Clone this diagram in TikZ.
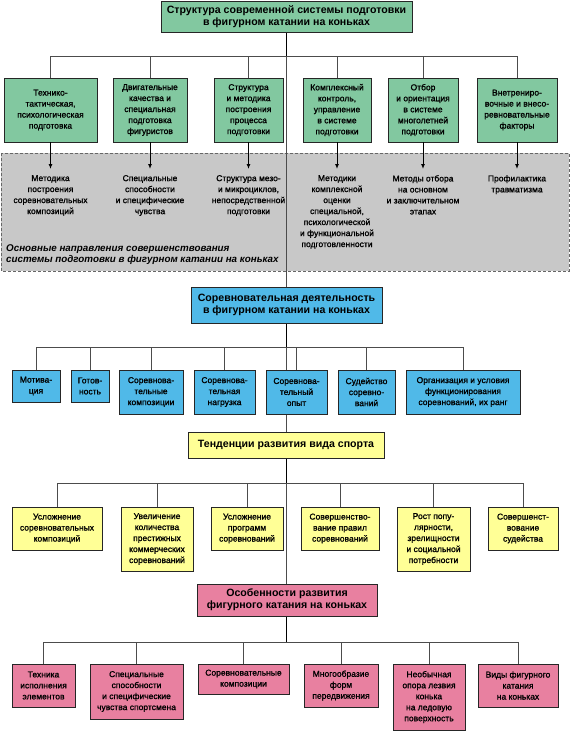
\documentclass[tikz,border=0pt]{standalone}
\usepackage{fontspec}
\setmainfont{Liberation Sans}
\newfontfamily\medfont[FakeBold=1.2]{Liberation Sans}
\usetikzlibrary{positioning, arrows.meta}

\definecolor{boxgreen}{RGB}{130,200,160}
\definecolor{boxblue}{RGB}{80,185,232}
\definecolor{boxyellow}{RGB}{255,255,150}
\definecolor{boxpink}{RGB}{232,128,160}
\definecolor{areagray}{RGB}{200,200,200}

\pgfdeclarelayer{back}
\pgfdeclarelayer{lines}
\pgfsetlayers{back,lines,main}

\tikzset{
  box/.style={draw=black!85, line width=0.8pt, align=center, inner sep=0pt,
    font=\medfont\fontsize{8.5}{11}\selectfont},
  sz/.style 2 args={minimum width=#1, minimum height=#2},
  headbox/.style={box, font=\bfseries\fontsize{10.6}{12}\selectfont},
  greenbox/.style={box, fill=boxgreen},
  bluebox/.style={box, fill=boxblue},
  yellowbox/.style={box, fill=boxyellow},
  pinkbox/.style={box, fill=boxpink},
  coltext/.style={align=center, anchor=north, inner xsep=0pt, inner ysep=6pt,
    font=\medfont\fontsize{8.5}{11}\selectfont},
  trunk/.style={line width=1.4pt, black},
  link/.style={line width=0.8pt, black!70},
  arr/.style={line width=1pt, black, -{Latex[length=5pt,width=4pt]}},
}

\begin{document}
\begin{tikzpicture}[x=1pt,y=-1pt]
\useasboundingbox (0,0) rectangle (570,731);

% Top block
\node[headbox, fill=boxgreen, sz={251}{31}] (top) at (286.5,17)
  {Структура современной системы подготовки\\в фигурном катании на коньках};
\coordinate (gbus) at (286.5,56);

\node[greenbox, sz={93}{64}] (g1) at (50.5,110) {Технико-\\тактическая,\\психологическая\\подготовка};
\node[greenbox, sz={74}{64}] (g2) at (150,110) {Двигательные\\качества и\\специальная\\подготовка\\фигуристов};
\node[greenbox, sz={69}{64}] (g3) at (248.5,110) {Структура\\и методика\\построения\\процесса\\подготовки};
\node[greenbox, sz={68}{64}] (g4) at (337,110) {Комплексный\\контроль,\\управление\\в системе\\подготовки};
\node[greenbox, sz={70}{64}] (g5) at (423,110) {Отбор\\и ориентация\\в системе\\многолетней\\подготовки};
\node[greenbox, sz={80}{64}] (g6) at (517,110) {Внетрениро-\\вочные и внесо-\\ревновательные\\факторы};

% Gray area
\begin{pgfonlayer}{back}
\draw[black!60, dashed, dash pattern=on 3pt off 2pt, fill=areagray, line width=0.7pt]
  (1,153) rectangle (569,271);
\end{pgfonlayer}

\node[coltext] (m1) at (50.5,169) {Методика\\построения\\соревновательных\\композиций};
\node[coltext] (m2) at (150,169) {Специальные\\способности\\и специфические\\чувства};
\node[coltext] (m3) at (248.5,169) {Структура мезо-\\и микроциклов,\\непосредственной\\подготовки};
\node[coltext] (m4) at (337,169) {Методики\\комплексной\\оценки\\специальной,\\психологической\\и функциональной\\подготовленности};
\node[coltext] (m5) at (423,169) {Методы отбора\\на основном\\и заключительном\\этапах};
\node[coltext] (m6) at (517,169) {Профилактика\\травматизма};

\node[align=left, anchor=west, inner sep=0pt, font=\bfseries\itshape\fontsize{9.8}{11}\selectfont]
  (note) at (6,254.5) {Основные направления совершенствования\\системы подготовки в фигурном катании на коньках};

% Blue block
\node[headbox, fill=boxblue, sz={191}{36}] (comp) at (286.5,305)
  {Соревновательная деятельность\\в фигурном катании на коньках};
\coordinate (bbus) at (286.5,347);

\node[bluebox, sz={48}{32}] (b1) at (36,386) {Мотива-\\ция};
\node[bluebox, sz={38}{32}] (b2) at (90,386) {Готов-\\ность};
\node[bluebox, sz={64}{44}] (b3) at (151,392) {Соревнова-\\тельные\\композиции};
\node[bluebox, sz={61}{44}] (b4) at (224.5,392) {Соревнова-\\тельная\\нагрузка};
\node[bluebox, sz={61}{44}] (b5) at (296.5,392) {Соревнова-\\тельный\\опыт};
\node[bluebox, sz={57}{44}] (b6) at (366.5,392) {Судейство\\соревно-\\ваний};
\node[bluebox, sz={114}{44}] (b7) at (463,392) {Организация и условия\\функционирования\\соревнований, их ранг};

% Yellow block
\node[headbox, fill=boxyellow, sz={196}{26}] (trend) at (286,445) {Тенденции развития вида спорта};
\coordinate (ybus) at (286.5,483);

\node[yellowbox, sz={90}{43}] (y1) at (57,528.5) {Усложнение\\соревновательных\\композиций};
\node[yellowbox, sz={72}{64}] (y2) at (157,539) {Увеличение\\количества\\престижных\\коммерческих\\соревнований};
\node[yellowbox, sz={72}{43}] (y3) at (247,528.5) {Усложнение\\программ\\соревнований};
\node[yellowbox, sz={78}{43}] (y4) at (340,528.5) {Совершенство-\\вание правил\\соревнований};
\node[yellowbox, sz={73}{64}] (y5) at (433.5,539) {Рост попу-\\лярности,\\зрелищности\\и социальной\\потребности};
\node[yellowbox, sz={70}{43}] (y6) at (523,528.5) {Совершенст-\\вование\\судейства};

% Pink block
\node[headbox, fill=boxpink, sz={180}{32}] (feat) at (287,600)
  {Особенности развития\\фигурного катания на коньках};
\coordinate (pbus) at (286.5,642);

\node[pinkbox, sz={63}{43}] (p1) at (43.5,685.5) {Техника\\исполнения\\элементов};
\node[pinkbox, sz={93}{55}] (p2) at (136.5,691.5) {Специальные\\способности\\и специфические\\чувства спортсмена};
\node[pinkbox, sz={91}{30}] (p3) at (243.5,679) {Соревновательные\\композиции};
\node[pinkbox, sz={74}{43}] (p4) at (341,685.5) {Многообразие\\форм\\передвижения};
\node[pinkbox, sz={72}{66}] (p5) at (429,697) {Необычная\\опора лезвия\\конька\\на ледовую\\поверхность};
\node[pinkbox, sz={80}{43}] (p6) at (518,685.5) {Виды фигурного\\катания\\на коньках};

% Connectors
\begin{pgfonlayer}{lines}
\draw[trunk] (top.south) -- (gbus);
\draw[link] (gbus) -- (comp.north);
\foreach \n in {g1,g2,g3,g4,g5,g6}
  \draw[link] (\n.north) |- (gbus);

\draw[trunk] (comp.south) -- (bbus);
\draw[link] (bbus) -- (trend.north -| bbus);
\foreach \n in {b1,b2,b3,b4,b5,b6,b7}
  \draw[link] (\n.north) |- (bbus);

\draw[trunk] (trend.south -| ybus) -- (ybus);
\draw[link] (ybus) -- (feat.north -| ybus);
\foreach \n in {y1,y2,y3,y4,y5,y6}
  \draw[link] (\n.north) |- (ybus);

\draw[trunk] (feat.south -| pbus) -- (pbus);
\foreach \n in {p1,p2,p3,p4,p5,p6}
  \draw[link] (\n.north) |- (pbus);
\end{pgfonlayer}

\foreach \i in {1,...,6}
  \draw[arr] (g\i.south) -- (m\i.north);
\end{tikzpicture}
\end{document}
